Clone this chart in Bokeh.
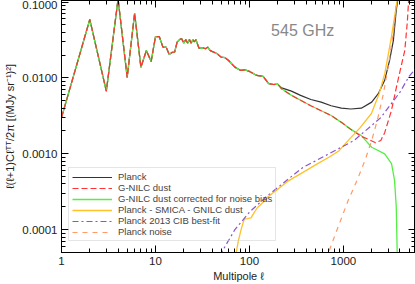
from bokeh.plotting import figure
from bokeh.models import (FixedTicker, PrintfTickFormatter, LogAxis, Legend,
                          LegendItem, Label, Range1d)
from bokeh.embed import file_html
from bokeh.resources import INLINE

# ---------------- data ----------------
x_ticks = [1, 10, 100, 1000]
y_ticks = [1e-4, 1e-3, 1e-2, 1e-1]

# shared low-multipole part (Planck, G-NILC dust and corrected coincide)
ell_low = [1, 2, 3, 4, 5, 6, 7, 8, 9, 10, 11, 12, 13, 14, 15, 16, 17, 18, 19, 20,
           21, 22, 23, 24, 25, 26, 27, 28, 29, 30, 32, 34, 36, 38, 40, 45, 50, 55,
           60, 70, 80, 90, 100, 120, 140, 160, 180, 200]
dl_low = [0.0030, 0.059, 0.0067, 0.11, 0.0102, 0.071, 0.0138, 0.023, 0.0165, 0.035,
          0.035, 0.0255, 0.0255, 0.0204, 0.0217, 0.022, 0.0297, 0.032, 0.033, 0.0288,
          0.032, 0.0288, 0.032, 0.0288, 0.032, 0.030, 0.032, 0.028, 0.0248, 0.0248,
          0.025, 0.0243, 0.0255, 0.0231, 0.0224, 0.021, 0.0188, 0.0185, 0.017, 0.0139,
          0.0126, 0.0128, 0.0122, 0.0108, 0.0105, 0.0084, 0.0082, 0.0083]

ell_planck_hi = [220, 280, 350, 450, 580, 740, 950, 1200, 1550, 2000, 2350, 2750,
                 3100, 3400, 3650, 3800]
dl_planck_hi = [0.0074, 0.0067, 0.0059, 0.0052, 0.0048, 0.0043, 0.0040, 0.0039,
                0.0040, 0.0048, 0.0062, 0.0093, 0.017, 0.031, 0.078, 0.11]

ell_gnilc_hi = [220, 280, 450, 740, 950, 1200, 1550, 1850, 2200, 2500, 2750, 3240,
                3670, 4100, 4500, 4800, 4950]
dl_gnilc_hi = [0.0072, 0.0059, 0.0043, 0.0032, 0.0026, 0.0021, 0.0017, 0.00155,
               0.0014, 0.0015, 0.0019, 0.0037, 0.0076, 0.014, 0.023, 0.057, 0.11]

ell_corr_hi = [220, 280, 450, 740, 950, 1200, 1550, 2000, 2750, 3250, 3500, 3650, 3750]
dl_corr_hi = [0.0072, 0.0059, 0.0043, 0.0032, 0.0026, 0.0021, 0.00174, 0.00122,
              0.0010, 0.00074, 0.00045, 0.0002, 0.00004]

ell_resid = [70, 76, 81, 88, 95, 104, 113, 122, 140, 157, 180, 200, 260, 371, 500,
             700, 900, 1120, 1500, 1986, 2400, 2755, 3240, 3750]
dl_resid = [4e-5, 7e-5, 9.7e-5, 0.000138, 0.00014, 0.000143, 0.00017, 0.000196,
            0.00023, 0.00027, 0.00031, 0.00034, 0.00044, 0.00057, 0.00071, 0.0009,
            0.0011, 0.00149, 0.0022, 0.0034, 0.0062, 0.0114, 0.0346, 0.11]

ell_cib = [48, 70, 100, 150, 200, 370, 700, 1300, 2500, 4000, 5000, 5800]
dl_cib = [4.5e-5, 0.0001, 0.00017, 0.00027, 0.00036, 0.00066, 0.0010, 0.0015,
          0.0030, 0.0065, 0.0105, 0.013]

ell_noise = [650, 800, 1120, 1400, 1690, 2000, 2300, 2650, 2990, 3400, 3700]
dl_noise = [4e-5, 8e-5, 0.00024, 0.00045, 0.00081, 0.0015, 0.0028, 0.0060, 0.0139,
            0.040, 0.11]

labels = ["Planck", "G-NILC dust", "G-NILC dust corrected for noise bias",
          "Planck - SMICA - GNILC dust", "Planck 2013 CIB best-fit", "Planck noise"]

# ---------------- figure ----------------
FONT = "Liberation Sans"
p = figure(width=415, height=284, x_axis_type="log", y_axis_type="log",
           x_range=Range1d(1, 5850), y_range=Range1d(5e-5, 0.105),
           output_backend="svg", toolbar_location=None,
           min_border_left=61, min_border_right=0, min_border_top=0,
           min_border_bottom=32)
p.grid.visible = False
p.outline_line_color = "black"
p.background_fill_color = "white"

x_minor = [m * t for t in x_ticks for m in range(2, 10)]
y_minor = [m * 1e-5 for m in range(5, 10)] + \
          [m * t for t in y_ticks for m in range(2, 10)]


def style_axis(ax, show_labels=True):
    ax.axis_line_color = "black"
    ax.major_tick_line_color = "black"
    ax.minor_tick_line_color = "black"
    ax.major_tick_in = 7
    ax.major_tick_out = 0
    ax.minor_tick_in = 4
    ax.minor_tick_out = 0
    if show_labels:
        ax.major_label_text_font = FONT
        ax.major_label_text_font_size = "11.5px"
        ax.major_label_text_color = "#222222"
        ax.axis_label_text_font = FONT
        ax.axis_label_text_font_size = "11px"
        ax.axis_label_text_font_style = "normal"
        ax.axis_label_text_color = "#222222"
    else:
        ax.major_label_text_font_size = "1px"
        ax.major_label_text_alpha = 0
        ax.major_label_standoff = 0


xa = p.xaxis[0]
xa.ticker = FixedTicker(ticks=x_ticks, minor_ticks=x_minor)
xa.formatter = PrintfTickFormatter(format="%d")
xa.axis_label = "Multipole ℓ"
xa.major_label_standoff = 4
xa.axis_label_standoff = 2
style_axis(xa)

ya = p.yaxis[0]
ya.ticker = FixedTicker(ticks=y_ticks, minor_ticks=y_minor)
ya.formatter = PrintfTickFormatter(format="%.4f")
ya.axis_label = "ℓ(ℓ+1)Cℓᵀᵀ/2π [(MJy sr⁻¹)²]"
ya.major_label_standoff = 4
ya.axis_label_standoff = 3
style_axis(ya)

top = LogAxis(ticker=FixedTicker(ticks=x_ticks, minor_ticks=x_minor))
style_axis(top, False)
p.add_layout(top, "above")
right = LogAxis(ticker=FixedTicker(ticks=y_ticks, minor_ticks=y_minor))
style_axis(right, False)
p.add_layout(right, "right")

r_planck = p.line(ell_low + ell_planck_hi, dl_low + dl_planck_hi,
                  line_color="#333333", line_width=1.2)
r_corr = p.line(ell_low + ell_corr_hi, dl_low + dl_corr_hi,
                line_color="#55ee44", line_width=1.3)
r_gnilc = p.line(ell_low + ell_gnilc_hi, dl_low + dl_gnilc_hi,
                 line_color="#ff3333", line_width=1.2, line_dash="6 3")
r_resid = p.line(ell_resid, dl_resid, line_color="#ffc125", line_width=1.3)
r_cib = p.line(ell_cib, dl_cib, line_color="#8855cc", line_width=1.2,
               line_dash="6 3 2 3")
r_noise = p.line(ell_noise, dl_noise, line_color="#ff9966", line_width=1.2,
                 line_dash="5 5")

renderers = [r_planck, r_gnilc, r_corr, r_resid, r_cib, r_noise]
legend = Legend(items=[LegendItem(label=l, renderers=[r]) for l, r in zip(labels, renderers)],
                location=(7, 11), border_line_color="#cccccc", border_line_width=1,
                background_fill_alpha=0, label_text_font=FONT,
                label_text_font_size="9.5px", label_text_line_height=1.0,
                label_text_color="#444444",
                glyph_width=40, glyph_height=10, label_height=10, spacing=0,
                padding=3, label_standoff=6, margin=0)
p.add_layout(legend)

p.add_layout(Label(x=170, y=0.042, text="545 GHz", text_font=FONT,
                   text_font_size="16px", text_color="#888888",
                   text_baseline="middle"))

open("out.html", "w").write(file_html(p, INLINE))
